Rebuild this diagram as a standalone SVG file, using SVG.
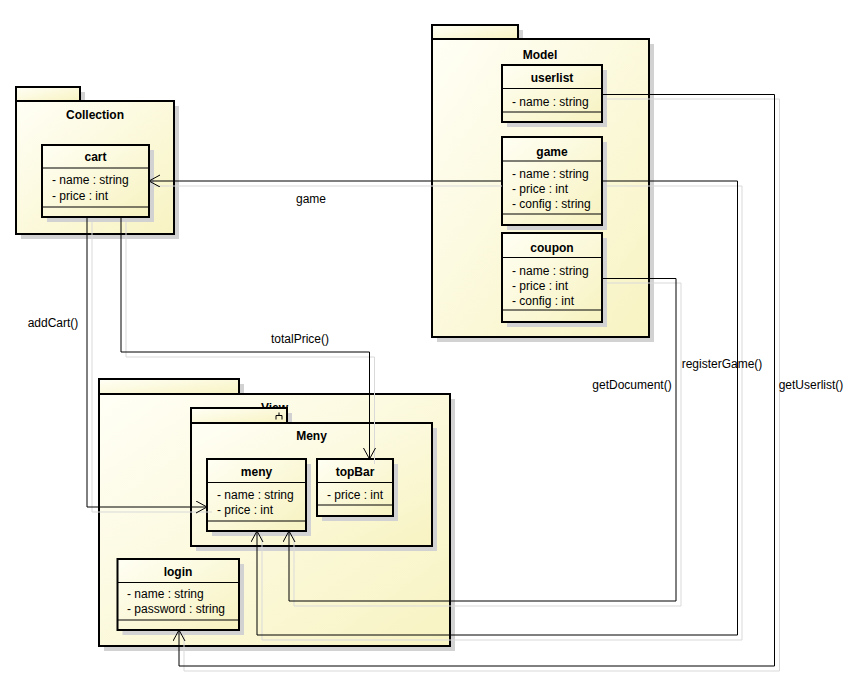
<svg xmlns="http://www.w3.org/2000/svg" width="853" height="684" viewBox="0 0 853 684">
<style>
text{font-family:"Liberation Sans",Arial,sans-serif;font-size:12px;fill:#000}
.t{font-weight:bold;text-anchor:middle}
.lbl{text-anchor:middle}
.pk{fill:url(#gp);stroke:#000;stroke-width:2}
.cl{fill:url(#gc);stroke:#000;stroke-width:2}
.sh{fill:#d2d2d2;stroke:none}
.ln{stroke:#000;stroke-width:1;fill:none}
.cn{stroke:#000;stroke-width:1;fill:none}
.cs{stroke:#d9d9d9;stroke-width:1;fill:none}
</style>
<defs>
<linearGradient id="gp" x1="0" y1="0" x2="1" y2="1">
<stop offset="0" stop-color="#fffff6"/>
<stop offset="1" stop-color="#f8f3c2"/>
</linearGradient>
<linearGradient id="gc" x1="0" y1="0" x2="1" y2="1">
<stop offset="0" stop-color="#fffff4"/>
<stop offset="1" stop-color="#f7f2c0"/>
</linearGradient>
<marker id="ar" markerWidth="14" markerHeight="14" refX="11.5" refY="6" orient="auto" markerUnits="userSpaceOnUse">
<path d="M0.5,0 L11.5,6 L0.5,12" fill="none" stroke="#000" stroke-width="1"/>
</marker>
</defs>
<rect width="853" height="684" fill="#fff"/>

<g id="pkg-collection">
<rect class="sh" x="21" y="92" width="64" height="14"/>
<rect class="sh" x="21" y="106" width="158" height="133"/>
<rect class="pk" x="16" y="87" width="64" height="14"/>
<rect class="pk" x="16" y="101" width="158" height="133"/>
<text class="t" x="95" y="119">Collection</text>
</g>

<g id="pkg-model">
<rect class="sh" x="437" y="30" width="86" height="14"/>
<rect class="sh" x="437" y="44" width="217" height="298"/>
<rect class="pk" x="432" y="25" width="86" height="14"/>
<rect class="pk" x="432" y="39" width="217" height="298"/>
<text class="t" x="540" y="59">Model</text>
</g>

<g id="pkg-view">
<rect class="sh" x="104" y="384" width="140" height="15"/>
<rect class="sh" x="104" y="399" width="351" height="252"/>
<rect class="pk" x="99" y="379" width="140" height="15"/>
<rect class="pk" x="99" y="394" width="351" height="252"/>
<text class="t" x="274.5" y="412">View</text>
</g>

<g id="pkg-meny">
<rect class="sh" x="196" y="413" width="96" height="15"/>
<rect class="sh" x="196" y="428" width="241" height="123"/>
<rect class="pk" x="191" y="408" width="96" height="15"/>
<rect class="pk" x="191" y="423" width="241" height="123"/>
<path class="ln" d="M276 419.5 V415.5 H282 V419.5 M279 415.5 V412.5"/>
<text class="t" x="311.5" y="440">Meny</text>
</g>

<g id="cls-cart">
<rect class="sh" x="47" y="150" width="107" height="72"/>
<rect class="cl" x="42" y="145" width="107" height="72"/>
<path class="ln" d="M42 168 H149 M42 207 H149"/>
<text class="t" x="95.5" y="161">cart</text>
<text x="52" y="184">- name : string</text>
<text x="52" y="200">- price : int</text>
</g>

<g id="cls-userlist">
<rect class="sh" x="507" y="70" width="100" height="57"/>
<rect class="cl" x="502" y="65" width="100" height="57"/>
<path class="ln" d="M502 88.5 H602 M502 112 H602"/>
<text class="t" x="552" y="82">userlist</text>
<text x="512" y="106">- name : string</text>
</g>

<g id="cls-game">
<rect class="sh" x="507" y="142" width="100" height="88"/>
<rect class="cl" x="502" y="137" width="100" height="88"/>
<path class="ln" d="M502 161 H602 M502 214 H602"/>
<text class="t" x="552" y="156">game</text>
<text x="512" y="178">- name : string</text>
<text x="512" y="193">- price : int</text>
<text x="512" y="208">- config : string</text>
</g>

<g id="cls-coupon">
<rect class="sh" x="507" y="238" width="100" height="89"/>
<rect class="cl" x="502" y="233" width="100" height="89"/>
<path class="ln" d="M502 257.5 H602 M502 310 H602"/>
<text class="t" x="552" y="251.5">coupon</text>
<text x="512" y="275">- name : string</text>
<text x="512" y="290">- price : int</text>
<text x="512" y="305">- config : int</text>
</g>

<g id="cls-meny">
<rect class="sh" x="212" y="464" width="99" height="72"/>
<rect class="cl" x="207" y="459" width="99" height="72"/>
<path class="ln" d="M207 482.5 H306 M207 521 H306"/>
<text class="t" x="256.5" y="476">meny</text>
<text x="217" y="499">- name : string</text>
<text x="217" y="514">- price : int</text>
</g>

<g id="cls-topbar">
<rect class="sh" x="322" y="464" width="76" height="57"/>
<rect class="cl" x="317" y="459" width="76" height="57"/>
<path class="ln" d="M317 482.5 H393 M317 505 H393"/>
<text class="t" x="355" y="476">topBar</text>
<text x="327" y="499">- price : int</text>
</g>

<g id="cls-login">
<rect class="sh" x="122.5" y="564" width="121.5" height="71"/>
<rect class="cl" x="117.5" y="559" width="121.5" height="71"/>
<path class="ln" d="M117.5 582.5 H239 M117.5 620 H239"/>
<text class="t" x="178" y="576">login</text>
<text x="127" y="598">- name : string</text>
<text x="127" y="613">- password : string</text>
</g>

<g id="connectors">
<path class="cs" d="M502 186 H154"/>
<path class="cs" d="M92 222 V512 H212"/>
<path class="cs" d="M126 222 V357 H374.5 V464"/>
<path class="cs" d="M607 283 H681 V606 H294 V536"/>
<path class="cs" d="M607 186 H742 V640 H262 V536"/>
<path class="cs" d="M607 99 H779.5 V671 H184 V635"/>

<path class="cn" d="M502 181 H149" marker-end="url(#ar)"/>
<path class="cn" d="M87 217 V507 H207" marker-end="url(#ar)"/>
<path class="cn" d="M121 217 V352 H369.5 V459" marker-end="url(#ar)"/>
<path class="cn" d="M602 278.5 H676 V601 H289 V531" marker-end="url(#ar)"/>
<path class="cn" d="M602 181 H737.5 V635 H257 V531" marker-end="url(#ar)"/>
<path class="cn" d="M602 94.5 H774.5 V666 H179 V630" marker-end="url(#ar)"/>

<text class="lbl" x="311" y="203">game</text>
<text class="lbl" x="53" y="327">addCart()</text>
<text class="lbl" x="300" y="343">totalPrice()</text>
<text class="lbl" x="722" y="368">registerGame()</text>
<text class="lbl" x="632" y="389">getDocument()</text>
<text class="lbl" x="811" y="389">getUserlist()</text>
</g>
</svg>
